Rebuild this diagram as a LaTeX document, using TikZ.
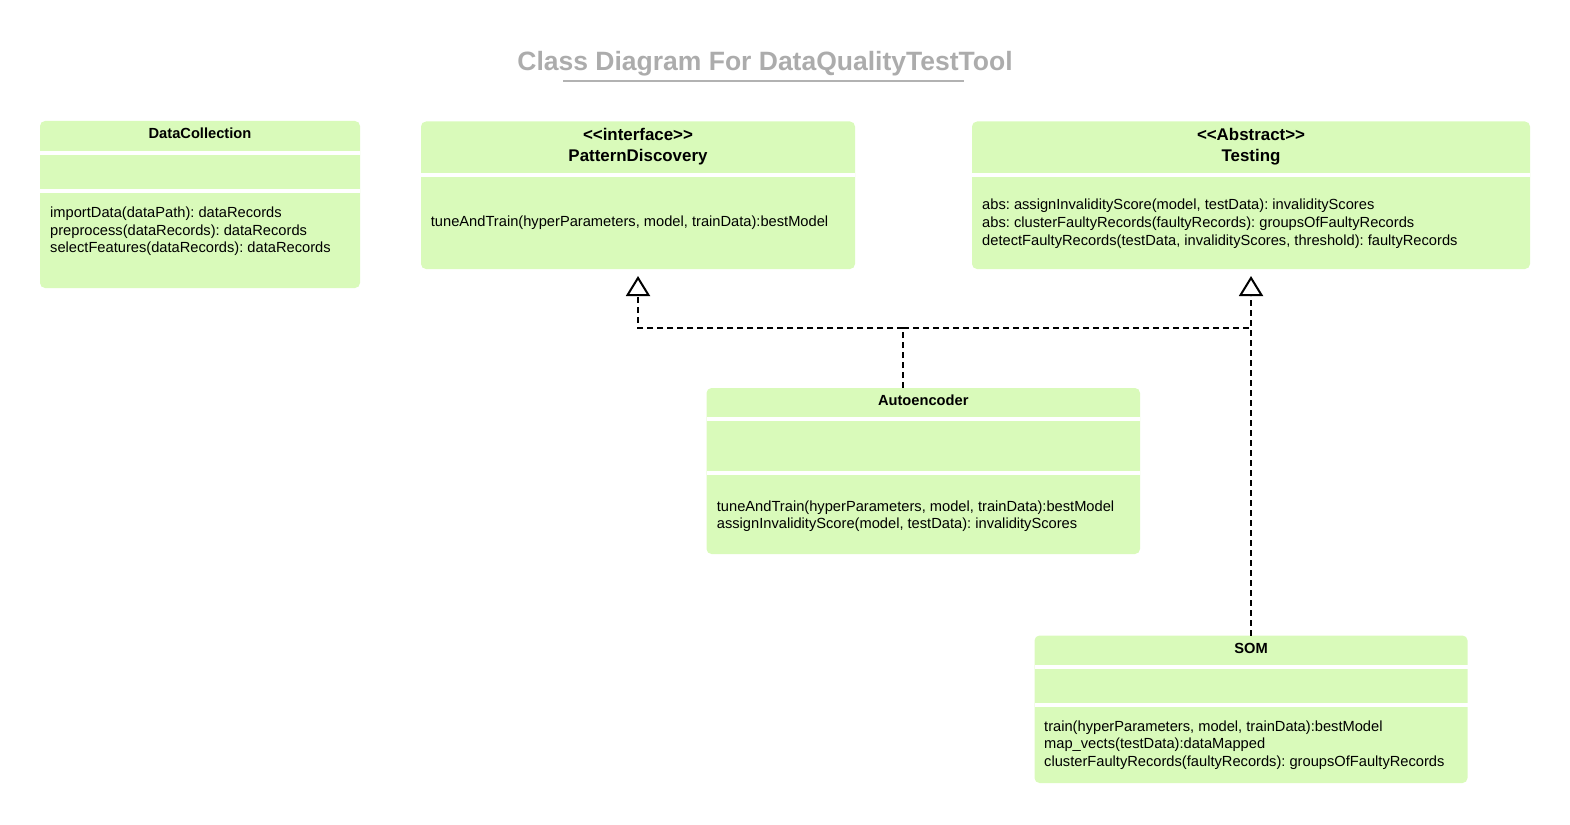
\documentclass[tikz,border=0pt]{standalone}
\usepackage{fontspec}
\setmainfont{Liberation Sans}[Ligatures=TeXOff]
\usetikzlibrary{arrows.meta}
\definecolor{boxgreen}{RGB}{217,250,186}
\definecolor{titlegray}{RGB}{172,172,172}
\definecolor{linegray}{RGB}{178,178,178}
\frenchspacing
\tikzset{
  classbox/.style={fill=boxgreen, draw=none, rounded corners=5pt, inner sep=0pt, outer sep=0pt},
  sepline/.style={white, line width=4pt},
  ctitle/.style={font=\frenchspacing\bfseries\fontsize{14.67}{17}\selectfont, inner sep=0pt, anchor=base},
  stitle/.style={font=\frenchspacing\bfseries\fontsize{16.9}{20}\selectfont, inner sep=0pt, anchor=base},
  meth/.style={font=\frenchspacing\fontsize{14.67}{17}\selectfont, inner sep=0pt, anchor=base west},
  depline/.style={line width=2pt, dash pattern=on 6pt off 4pt},
  dep/.style={depline, -{Triangle[open, length=20pt, width=24pt, line width=2pt]}, shorten >=7pt},
}
\begin{document}
\begin{tikzpicture}[x=1pt,y=-1pt]
\useasboundingbox (0,0) rectangle (1570,824);

% Title
\node[font=\bfseries\fontsize{26.5}{30}\selectfont, text=titlegray, inner sep=0pt, anchor=base] (title) at (765,70.5) {Class Diagram For DataQualityTestTool};
\coordinate (ul1) at (563,81);
\coordinate (ul2) at (964,81);
\draw[linegray, line width=2pt] (ul1) -- (ul2);

% DataCollection
\node[classbox, minimum width=320pt, minimum height=167pt] (dc) at (200,204.5) {};
\draw[sepline] (dc.west |- 0,153) -- (dc.east |- 0,153);
\draw[sepline] (dc.west |- 0,191) -- (dc.east |- 0,191);
\node[ctitle] (dct) at (200,139) {DataCollection};
\node[meth] (dcm1) at (50,217.7) {importData(dataPath): dataRecords};
\node[meth] (dcm2) at (50,235.2) {preprocess(dataRecords): dataRecords};
\node[meth] (dcm3) at (50,252.7) {selectFeatures(dataRecords): dataRecords};

% PatternDiscovery
\node[classbox, minimum width=434pt, minimum height=147.5pt] (pd) at (638,195.25) {};
\draw[sepline] (pd.west |- 0,175) -- (pd.east |- 0,175);
\node[stitle] (pds) at (638,140.5) {<<interface>>};
\node[stitle] (pdt) at (638,161.7) {PatternDiscovery};
\node[meth] (pdm1) at (430.7,226.7) {tuneAndTrain(hyperParameters, model, trainData):bestModel};

% Testing
\node[classbox, minimum width=558pt, minimum height=147.5pt] (ts) at (1251,195.25) {};
\draw[sepline] (ts.west |- 0,175) -- (ts.east |- 0,175);
\node[stitle] (tss) at (1251,140.5) {<<Abstract>>};
\node[stitle] (tst) at (1251,161.7) {Testing};
\node[meth] (tsm1) at (982,209.7) {abs: assignInvalidityScore(model, testData): invalidityScores};
\node[meth] (tsm2) at (982,227.5) {abs: clusterFaultyRecords(faultyRecords): groupsOfFaultyRecords};
\node[meth] (tsm3) at (982,245.3) {detectFaultyRecords(testData, invalidityScores, threshold): faultyRecords};

% Autoencoder
\node[classbox, minimum width=433.5pt, minimum height=166pt] (ae) at (923.25,471) {};
\draw[sepline] (ae.west |- 0,419) -- (ae.east |- 0,419);
\draw[sepline] (ae.west |- 0,473.3) -- (ae.east |- 0,473.3);
\node[ctitle] (aet) at (923.25,405.7) {Autoencoder};
\node[meth] (aem1) at (716.7,511) {tuneAndTrain(hyperParameters, model, trainData):bestModel};
\node[meth] (aem2) at (716.7,528.5) {assignInvalidityScore(model, testData): invalidityScores};

% SOM
\node[classbox, minimum width=433pt, minimum height=147.5pt] (som) at (1251,709.25) {};
\draw[sepline] (som.west |- 0,666.5) -- (som.east |- 0,666.5);
\draw[sepline] (som.west |- 0,705) -- (som.east |- 0,705);
\node[ctitle] (somt) at (1251,653.3) {SOM};
\node[meth] (somm1) at (1044,731) {train(hyperParameters, model, trainData):bestModel};
\node[meth] (somm2) at (1044,748.5) {map\_vects(testData):dataMapped};
\node[meth] (somm3) at (1044,766) {clusterFaultyRecords(faultyRecords): groupsOfFaultyRecords};

% Connectors
\coordinate (j1) at (903,328);
\draw[dep] (ae.north -| j1) -- (j1) -| (pd.south);
\draw[depline] (j1) -- (j1 -| ts.south);
\draw[dep] (som.north) -- (ts.south);
\end{tikzpicture}
\end{document}
